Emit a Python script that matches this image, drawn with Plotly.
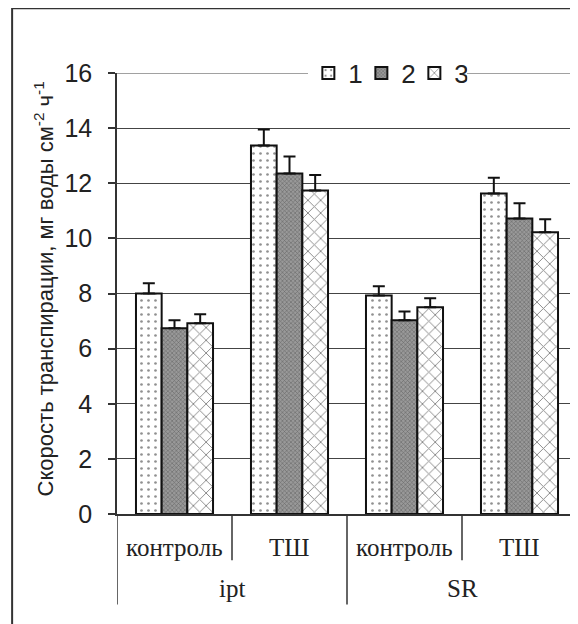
import plotly.graph_objects as go

# ---- data ----
groups = ["ipt", "ipt", "SR", "SR"]
treatments = ["контроль", "ТШ", "контроль", "ТШ"]
cats = ["ipt-контроль", "ipt-ТШ", "SR-контроль", "SR-ТШ"]
series_names = ["1", "2", "3"]
values_1 = [8.0, 13.37, 7.93, 11.63]
values_2 = [6.74, 12.35, 7.03, 10.72]
values_3 = [6.92, 11.74, 7.5, 10.22]
err_1 = [0.37, 0.58, 0.33, 0.57]
err_2 = [0.29, 0.62, 0.32, 0.55]
err_3 = [0.33, 0.56, 0.33, 0.47]
y_ticks = [0, 2, 4, 6, 8, 10, 12, 14, 16]
y_title = "Скорость транспирации, мг воды см<sup>-2</sup> ч<sup>-1</sup>"

LINE = "#333333"

patterns = [
    dict(shape=".", fgcolor="#222", bgcolor="white", size=7, solidity=0.12),
    dict(shape="x", fgcolor="#333", bgcolor="#999999", size=3, solidity=0.35),
    dict(shape="x", fgcolor="#111", bgcolor="white", size=9, solidity=0.2),
]
base_colors = ["white", "#999999", "white"]

fig = go.Figure()
for name, vals, errs, pat, col in zip(series_names, [values_1, values_2, values_3],
                                      [err_1, err_2, err_3], patterns, base_colors):
    fig.add_trace(go.Bar(
        x=cats, y=vals, name=name,
        marker=dict(color=col, line=dict(color="#111", width=2), pattern=pat),
        error_y=dict(type="data", array=errs, arrayminus=[0] * len(errs), symmetric=False,
                     color="#111", thickness=2, width=6),
    ))

# category labels
for i, t in enumerate(treatments):
    fig.add_annotation(x=i, y=-0.075, xref="x", yref="paper", text=t, showarrow=False,
                       font=dict(family="Liberation Serif", size=25, color="#222"),
                       yanchor="middle")
# group labels
ug = []
for g in groups:
    if g not in ug:
        ug.append(g)
for g in ug:
    idx = [i for i, gg in enumerate(groups) if gg == g]
    fig.add_annotation(x=(idx[0] + idx[-1]) / 2, y=-0.17, xref="x", yref="paper", text=g,
                       showarrow=False, font=dict(family="Liberation Serif", size=25, color="#222"),
                       yanchor="middle")

# divider lines
for i in range(len(cats) + 1):
    b = i - 0.5
    outer = (i == 0) or (i == len(cats)) or (groups[i] != groups[i - 1])
    fig.add_shape(type="line", xref="x", yref="paper", x0=b, x1=b, y0=0,
                  y1=-0.205 if outer else -0.105, line=dict(color=LINE, width=1.5))

# top gridline (at range end)
fig.add_shape(type="line", xref="paper", yref="y", x0=0, x1=1, y0=y_ticks[-1], y1=y_ticks[-1],
              line=dict(color="#444", width=1.2), layer="below")

# y title
fig.add_annotation(x=-0.158, y=0.51, xref="paper", yref="paper", text=y_title, textangle=-90,
                   showarrow=False, font=dict(family="Liberation Sans", size=22, color="#222"),
                   xanchor="center", yanchor="middle")

# outer frame
fig.add_shape(type="rect", xref="paper", yref="paper", x0=-0.228, x1=1.05, y0=-0.3, y1=1.147,
              line=dict(color=LINE, width=2), fillcolor="rgba(0,0,0,0)", layer="below")

fig.update_layout(
    width=570, height=616,
    margin=dict(l=109, r=1, t=65, b=110),
    paper_bgcolor="white", plot_bgcolor="white",
    barmode="group", bargap=0.33, bargroupgap=0,
    showlegend=True,
    legend=dict(orientation="h", x=0.416, y=1.0, xanchor="left", yanchor="middle",
                bgcolor="white", font=dict(family="Liberation Sans", size=26, color="#222"),
                itemwidth=30, tracegroupgap=0, entrywidth=8),
    xaxis=dict(showticklabels=False, showgrid=False, showline=True, linecolor=LINE, linewidth=1.5,
               ticks="", range=[-0.5, 3.5], zeroline=False),
    yaxis=dict(range=[0, 16], tickvals=y_ticks, showgrid=True, gridcolor="#444", gridwidth=1.2,
               showline=True, linecolor=LINE, linewidth=1.5, ticks="outside", ticklen=7,
               tickcolor=LINE, tickwidth=1.5, ticklabelstandoff=11, zeroline=False,
               tickfont=dict(family="Liberation Sans", size=25, color="#222")),
)

fig.write_html("out.html")
